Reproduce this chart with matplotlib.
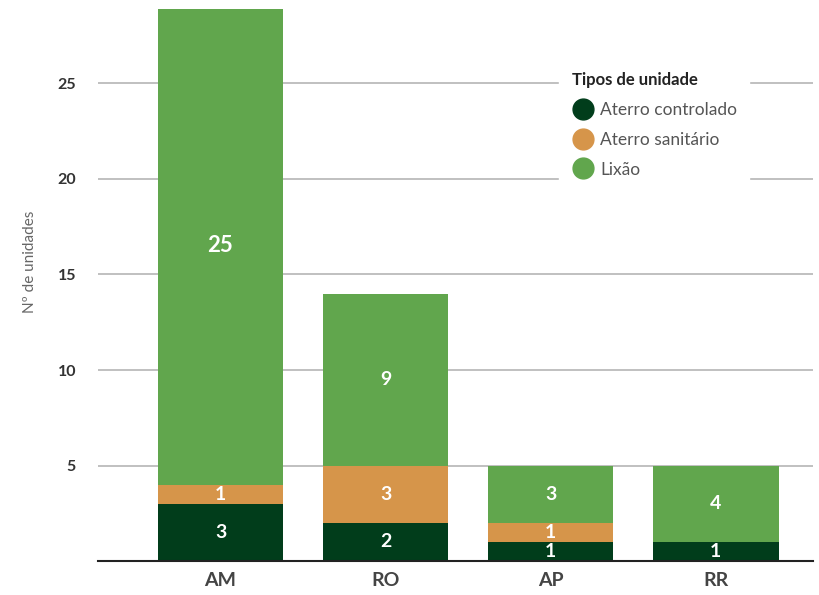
import matplotlib.pyplot as plt
from matplotlib.lines import Line2D
import numpy as np

estados = ["AM", "RO", "AP", "RR"]
controlado = [3, 2, 1, 1]
sanitario = [1, 3, 1, 0]
lixao = [25, 9, 3, 4]

tipos = ["Aterro controlado", "Aterro sanitário", "Lixão"]
cores = ["#013d1b", "#d6954a", "#61a64d"]


def main():
    plt.rcParams['font.family'] = ['Lato', 'Open Sans', 'DejaVu Sans']
    fig = plt.figure(figsize=(8.19, 5.95), dpi=100)
    ax = fig.add_axes([0.12, 0.057, 0.873, 0.928])

    x = np.arange(len(estados))
    series = [controlado, sanitario, lixao]
    base = np.zeros(len(estados))
    for vals, cor in zip(series, cores):
        vals = np.array(vals, dtype=float)
        ax.bar(x, vals, bottom=base, width=0.76, color=cor, zorder=2)
        for xi, b, v in zip(x, base, vals):
            if v > 0:
                fs = 16 if v >= 20 else 14
                ax.text(xi, b + v / 2, str(int(v)), ha="center", va="center",
                        color="white", fontsize=fs, fontweight="bold", zorder=3)
        base += vals

    ax.set_xlim(-0.74, 3.59)
    ax.set_ylim(0, 28.9)
    ax.set_yticks([5, 10, 15, 20, 25])
    ax.yaxis.grid(True, color="#b5b5b5", linewidth=1.2, zorder=0)
    ax.set_axisbelow(True)

    for s in ["top", "right", "left"]:
        ax.spines[s].set_visible(False)
    ax.spines["bottom"].set_color("#222222")
    ax.spines["bottom"].set_linewidth(1.5)
    ax.tick_params(axis="y", length=0, pad=16, labelsize=11.5, labelcolor="#333333")
    ax.tick_params(axis="x", length=0, pad=8, labelsize=14, labelcolor="#444444")
    ax.set_xticks(x)
    ax.set_xticklabels(estados, fontweight="bold")
    for t in ax.get_yticklabels():
        t.set_fontweight("bold")

    fig.text(0.037, 0.56, "Nº de unidades", rotation=90, ha="center", va="center",
             fontsize=11, color="#666666")

    handles = [Line2D([], [], marker="o", linestyle="", markersize=15,
                      markerfacecolor=c, markeredgecolor=c) for c in cores]
    leg = ax.legend(handles, tipos, title="Tipos de unidade", loc="upper left",
                    bbox_to_anchor=(0.645, 0.908), frameon=True, fontsize=12.5,
                    title_fontproperties={"weight": "bold", "size": 12},
                    handletextpad=0.35, labelspacing=0.8, borderpad=0.7,
                    handlelength=1.3, borderaxespad=0)
    leg._legend_box.align = "left"
    leg.get_frame().set_facecolor("white")
    leg.get_frame().set_edgecolor("white")
    leg.get_frame().set_alpha(1)
    leg.get_title().set_color("#222222")
    for t in leg.get_texts():
        t.set_color("#555555")

    fig.savefig("out.png", dpi=100)


if __name__ == "__main__":
    main()
